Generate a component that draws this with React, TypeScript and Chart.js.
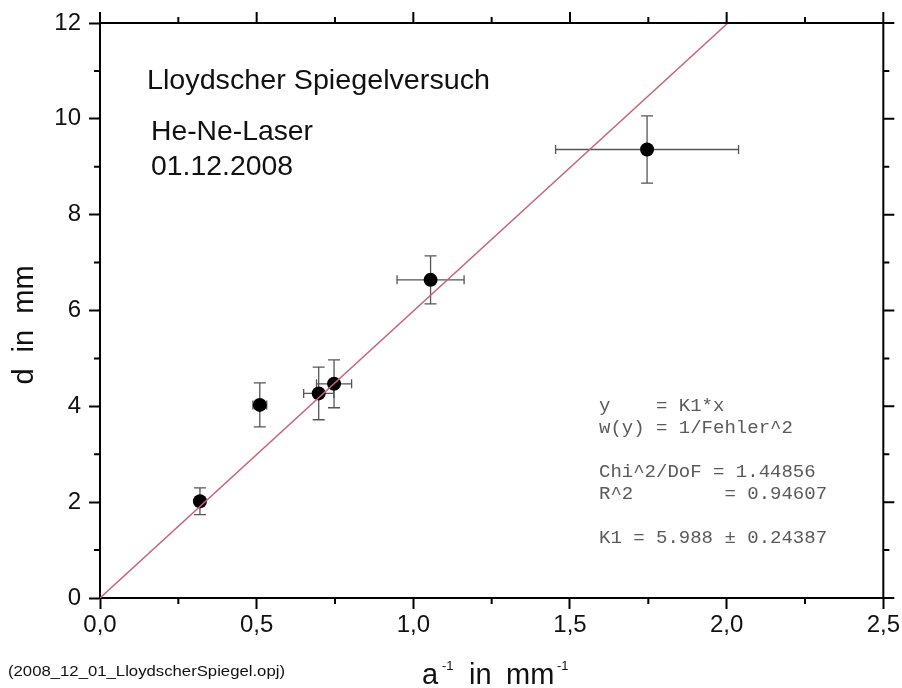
import React, { useEffect, useRef } from "react";
import { Chart, registerables } from "chart.js";

Chart.register(...registerables);

// ---- data ----
const xValues = [0.319, 0.51, 0.698, 0.747, 1.055, 1.746];
const yValues = [2.02, 4.03, 4.27, 4.47, 6.64, 9.36];
const xErrors = [0.012, 0.022, 0.048, 0.056, 0.107, 0.292];
const yErrors = [0.28, 0.46, 0.55, 0.5, 0.5, 0.7];

// fit line y = K1 * x, drawn from origin to the top of the frame
const fitX = [0, 2.004];
const fitY = [0, 12];

const xTickValues = [0, 0.5, 1, 1.5, 2, 2.5];
const xTickLabels = ["0,0", "0,5", "1,0", "1,5", "2,0", "2,5"];
const xMinorTicks = [0.25, 0.75, 1.25, 1.75, 2.25];
const yTickValues = [0, 2, 4, 6, 8, 10, 12];
const yTickLabels = ["0", "2", "4", "6", "8", "10", "12"];
const yMinorTicks = [1, 3, 5, 7, 9, 11];

const titleLines = ["Lloydscher Spiegelversuch", "He-Ne-Laser", "01.12.2008"];
const fitReport = [
  "y    = K1*x",
  "w(y) = 1/Fehler^2",
  "",
  "Chi^2/DoF = 1.44856",
  "R^2        = 0.94607",
  "",
  "K1 = 5.988 \u00b1 0.24387",
];
const fileNote = "(2008_12_01_LloydscherSpiegel.opj)";

const SANS = '"Liberation Sans", Arial, Helvetica, sans-serif';
const MONO = '"Liberation Mono", "Courier New", Courier, monospace';

function fitText(
  ctx: CanvasRenderingContext2D,
  text: string,
  x: number,
  y: number,
  font: string,
  width?: number,
  color = "#000"
) {
  ctx.save();
  ctx.font = font;
  ctx.fillStyle = color;
  ctx.textAlign = "left";
  ctx.textBaseline = "alphabetic";
  const w = ctx.measureText(text).width;
  ctx.translate(x, y);
  if (width && w > 0) ctx.scale(width / w, 1);
  ctx.fillText(text, 0, 0);
  ctx.restore();
}

const decorPlugin = {
  id: "decor",
  beforeDatasetsDraw(chart: any) {
    const ctx: CanvasRenderingContext2D = chart.ctx;
    const xs = chart.scales.x;
    const ys = chart.scales.y;
    ctx.save();
    ctx.strokeStyle = "#555";
    ctx.lineWidth = 1.3;
    xValues.forEach((xv, i) => {
      const px = xs.getPixelForValue(xv);
      const py = ys.getPixelForValue(yValues[i]);
      const x1 = xs.getPixelForValue(xv - xErrors[i]);
      const x2 = xs.getPixelForValue(xv + xErrors[i]);
      const y1 = ys.getPixelForValue(yValues[i] + yErrors[i]);
      const y2 = ys.getPixelForValue(yValues[i] - yErrors[i]);
      ctx.beginPath();
      ctx.moveTo(x1, py);
      ctx.lineTo(x2, py);
      ctx.moveTo(x1, py - 4.5);
      ctx.lineTo(x1, py + 4.5);
      ctx.moveTo(x2, py - 4.5);
      ctx.lineTo(x2, py + 4.5);
      ctx.moveTo(px, y1);
      ctx.lineTo(px, y2);
      ctx.moveTo(px - 6, y1);
      ctx.lineTo(px + 6, y1);
      ctx.moveTo(px - 6, y2);
      ctx.lineTo(px + 6, y2);
      ctx.stroke();
    });
    ctx.restore();
  },
  afterDraw(chart: any) {
    const ctx: CanvasRenderingContext2D = chart.ctx;
    const xs = chart.scales.x;
    const ys = chart.scales.y;
    const a = chart.chartArea;
    ctx.save();
    ctx.strokeStyle = "#000";
    ctx.lineWidth = 2;
    ctx.beginPath();
    // top & right frame lines
    ctx.moveTo(a.left, a.top);
    ctx.lineTo(a.right, a.top);
    ctx.moveTo(a.right, a.top);
    ctx.lineTo(a.right, a.bottom);
    // top ticks
    xTickValues.forEach((v) => {
      const p = xs.getPixelForValue(v);
      ctx.moveTo(p, a.top);
      ctx.lineTo(p, a.top - 11);
    });
    xMinorTicks.forEach((v) => {
      const p = xs.getPixelForValue(v);
      ctx.moveTo(p, a.top);
      ctx.lineTo(p, a.top - 6);
      ctx.moveTo(p, a.bottom);
      ctx.lineTo(p, a.bottom + 6);
    });
    // right ticks
    yTickValues.forEach((v) => {
      const p = ys.getPixelForValue(v);
      ctx.moveTo(a.right, p);
      ctx.lineTo(a.right + 11, p);
    });
    yMinorTicks.forEach((v) => {
      const p = ys.getPixelForValue(v);
      ctx.moveTo(a.right, p);
      ctx.lineTo(a.right + 6, p);
      ctx.moveTo(a.left, p);
      ctx.lineTo(a.left - 6, p);
    });
    ctx.stroke();
    ctx.restore();

    // titles inside plot
    fitText(ctx, titleLines[0], 147, 89, `28px ${SANS}`, 343, "#111");
    fitText(ctx, titleLines[1], 151, 140, `28px ${SANS}`, 162, "#111");
    fitText(ctx, titleLines[2], 151, 175, `28px ${SANS}`, 142, "#111");

    // fit report
    ctx.save();
    ctx.font = `19px ${MONO}`;
    ctx.fillStyle = "#5a5a5a";
    ctx.textBaseline = "alphabetic";
    fitReport.forEach((line, i) => {
      if (line) ctx.fillText(line, 599, 411 + i * 22);
    });
    ctx.restore();

    // y axis title
    ctx.save();
    ctx.translate(33, 325);
    ctx.rotate(-Math.PI / 2);
    ctx.font = `29px ${SANS}`;
    ctx.fillStyle = "#111";
    ctx.textAlign = "center";
    ctx.textBaseline = "alphabetic";
    ctx.fillText("d  in  mm", 0, 0);
    ctx.restore();

    // x axis title with superscripts
    fitText(ctx, "a", 422, 684, `29px ${SANS}`, undefined, "#111");
    fitText(ctx, "-1", 442, 670, `13px ${SANS}`, undefined, "#111");
    fitText(ctx, "in", 469, 684, `29px ${SANS}`, undefined, "#111");
    fitText(ctx, "mm", 506, 684, `29px ${SANS}`, undefined, "#111");
    fitText(ctx, "-1", 557, 670, `13px ${SANS}`, undefined, "#111");

    // file note
    fitText(ctx, fileNote, 8, 676, `15px ${SANS}`, 277, "#111");
  },
};

export default function App() {
  const ref = useRef<HTMLCanvasElement | null>(null);

  useEffect(() => {
    document.body.style.margin = "0";
    document.body.style.overflow = "hidden";
    const canvas = ref.current;
    if (!canvas) return;
    const chart = new Chart(canvas, {
      type: "scatter",
      data: {
        datasets: [
          {
            type: "line",
            label: "Fit",
            data: fitX.map((x, i) => ({ x, y: fitY[i] })),
            borderColor: "#c8647a",
            borderWidth: 1.5,
            pointRadius: 0,
            fill: false,
            showLine: true,
            order: 0,
          } as any,
          {
            type: "scatter",
            label: "Messwerte",
            data: xValues.map((x, i) => ({ x, y: yValues[i] })),
            pointRadius: 7,
            pointHoverRadius: 7,
            backgroundColor: "#000",
            borderColor: "#000",
            borderWidth: 0,
            order: 1,
          },
        ],
      },
      options: {
        responsive: false,
        animation: false,
        devicePixelRatio: 1,
        layout: { padding: { top: 23, right: 18, left: 0, bottom: 0 } },
        plugins: {
          legend: { display: false },
          tooltip: { enabled: false },
        },
        events: [],
        scales: {
          x: {
            type: "linear",
            position: "bottom",
            min: 0,
            max: 2.5,
            afterBuildTicks: (s: any) => {
              s.ticks = xTickValues.map((v) => ({ value: v }));
            },
            afterFit: (s: any) => {
              s.height = 90;
            },
            ticks: {
              callback: (_v: any, i: number) => xTickLabels[i],
              font: { family: SANS, size: 24 },
              color: "#111",
              padding: 2,
              maxRotation: 0,
              autoSkip: false,
            },
            grid: {
              drawOnChartArea: false,
              drawTicks: true,
              tickLength: 11,
              tickWidth: 2,
              tickColor: "#000",
              color: "#000",
            },
            border: { display: true, color: "#000", width: 2 },
          },
          y: {
            type: "linear",
            position: "left",
            min: 0,
            max: 12,
            afterBuildTicks: (s: any) => {
              s.ticks = yTickValues.map((v) => ({ value: v }));
            },
            afterFit: (s: any) => {
              s.width = 100;
            },
            ticks: {
              callback: (_v: any, i: number) => yTickLabels[i],
              font: { family: SANS, size: 24 },
              color: "#111",
              padding: 8,
              autoSkip: false,
            },
            grid: {
              drawOnChartArea: false,
              drawTicks: true,
              tickLength: 11,
              tickWidth: 2,
              tickColor: "#000",
              color: "#000",
            },
            border: { display: true, color: "#000", width: 2 },
          },
        },
      },
      plugins: [decorPlugin],
    });
    return () => chart.destroy();
  }, []);

  return (
    <div style={{ width: 902, height: 688, background: "#fff" }}>
      <canvas ref={ref} width={902} height={688} style={{ display: "block" }} />
    </div>
  );
}
